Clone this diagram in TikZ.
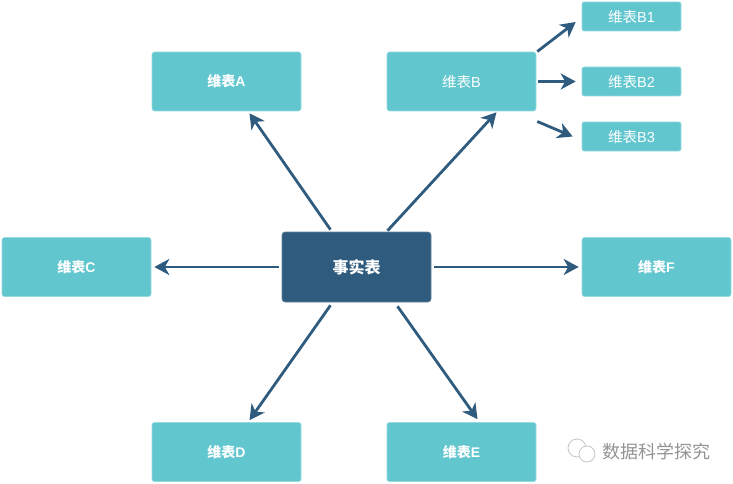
\documentclass[tikz,border=0pt]{standalone}
\usepackage{fontspec}
\setmainfont{Liberation Sans}
\newfontfamily\cjk{Noto Sans CJK SC}
\usetikzlibrary{arrows.meta}
\definecolor{tealbox}{HTML}{62C6CE}
\definecolor{tealedge}{HTML}{9ADBE0}
\definecolor{navybox}{HTML}{2F5C7E}
\tikzset{
  subbox/.style={fill=tealbox,draw=tealedge,line width=0.6pt,rounded corners=2pt,minimum width=99pt,minimum height=29pt,inner sep=0pt,text=white,font=\fontsize{14.5}{16}\selectfont},
  dimbox/.style={subbox,rounded corners=2.5pt,minimum width=149pt,minimum height=59pt,font=\bfseries\fontsize{14}{16}\selectfont},
  factbox/.style={fill=navybox,draw=navybox!75,line width=0.6pt,rounded corners=3pt,minimum width=149pt,minimum height=70pt,inner sep=0pt,text=white,font=\bfseries\fontsize{16}{18}\selectfont},
  link/.style={draw=navybox,line width=2.8pt,-{Stealth[length=15pt,width=16pt,inset=4.5pt]}},
  mark line/.style={draw=gray!45,line width=0.8pt}
}
\begin{document}
\begin{tikzpicture}[x=1pt,y=-1pt]
   \useasboundingbox (0,0) rectangle (733,484);
   \node[factbox] (fact) at (356.5,267) {{\cjk 事实表}};
   \foreach \nm/\x/\y/\lab in {dimA/226.5/81.5/A,dimC/76.5/267/C,dimF/656.5/267/F,dimD/226.5/452/D,dimE/461.5/452/E} {
    \node[dimbox] (\nm) at (\x,\y) {{\cjk 维表}\lab};
   }
   \node[dimbox,font=\fontsize{14.5}{16}\selectfont] (dimB) at (461.5,81.5) {{\cjk 维表}B};
   \foreach \nm/\y/\lab in {dimBa/16.5/B1,dimBb/81.5/B2,dimBc/136.5/B3} {
    \node[subbox] (\nm) at (631.5,\y) {{\cjk 维表}\lab};
   }
   % from the fact table
   \draw[link] ([xshift=-26pt,yshift=2pt]fact.north) -- ([xshift=23pt,yshift=-2pt]dimA.south);
   \draw[link] ([xshift=31pt,yshift=1pt]fact.north) -- ([xshift=35pt,yshift=-1pt]dimB.south);
   \draw[link] ([xshift=-3pt]fact.west) -- ([xshift=3pt]dimC.east);
   \draw[link] ([xshift=3pt]fact.east) -- ([xshift=-3pt]dimF.west);
   \draw[link] ([xshift=-26pt,yshift=-3pt]fact.south) -- ([xshift=23pt,yshift=2pt]dimD.north);
   \draw[link] ([xshift=41pt,yshift=-4pt]fact.south) -- ([xshift=16pt,yshift=3pt]dimE.north);
   % from B to its sub tables
   \draw[link] ([xshift=1pt,yshift=30pt]dimB.east) -- ([xshift=-6pt,yshift=-5.5pt]dimBa.west);
   \draw[link] ([xshift=2pt]dimB.east) -- ([xshift=-6pt]dimBb.west);
   \draw[link] ([xshift=1pt,yshift=-40pt]dimB.east) -- ([xshift=-9pt,yshift=0pt]dimBc.west);
   % watermark
   \node[text=gray!85,inner sep=0pt,font=\cjk\fontsize{18}{20}\selectfont] (mark) at (656,452) {数据科学探究};
   \draw[mark line] (577,448) circle (9pt);
   \draw[mark line,fill=white] (587,454) circle (8pt);
\end{tikzpicture}
\end{document}
